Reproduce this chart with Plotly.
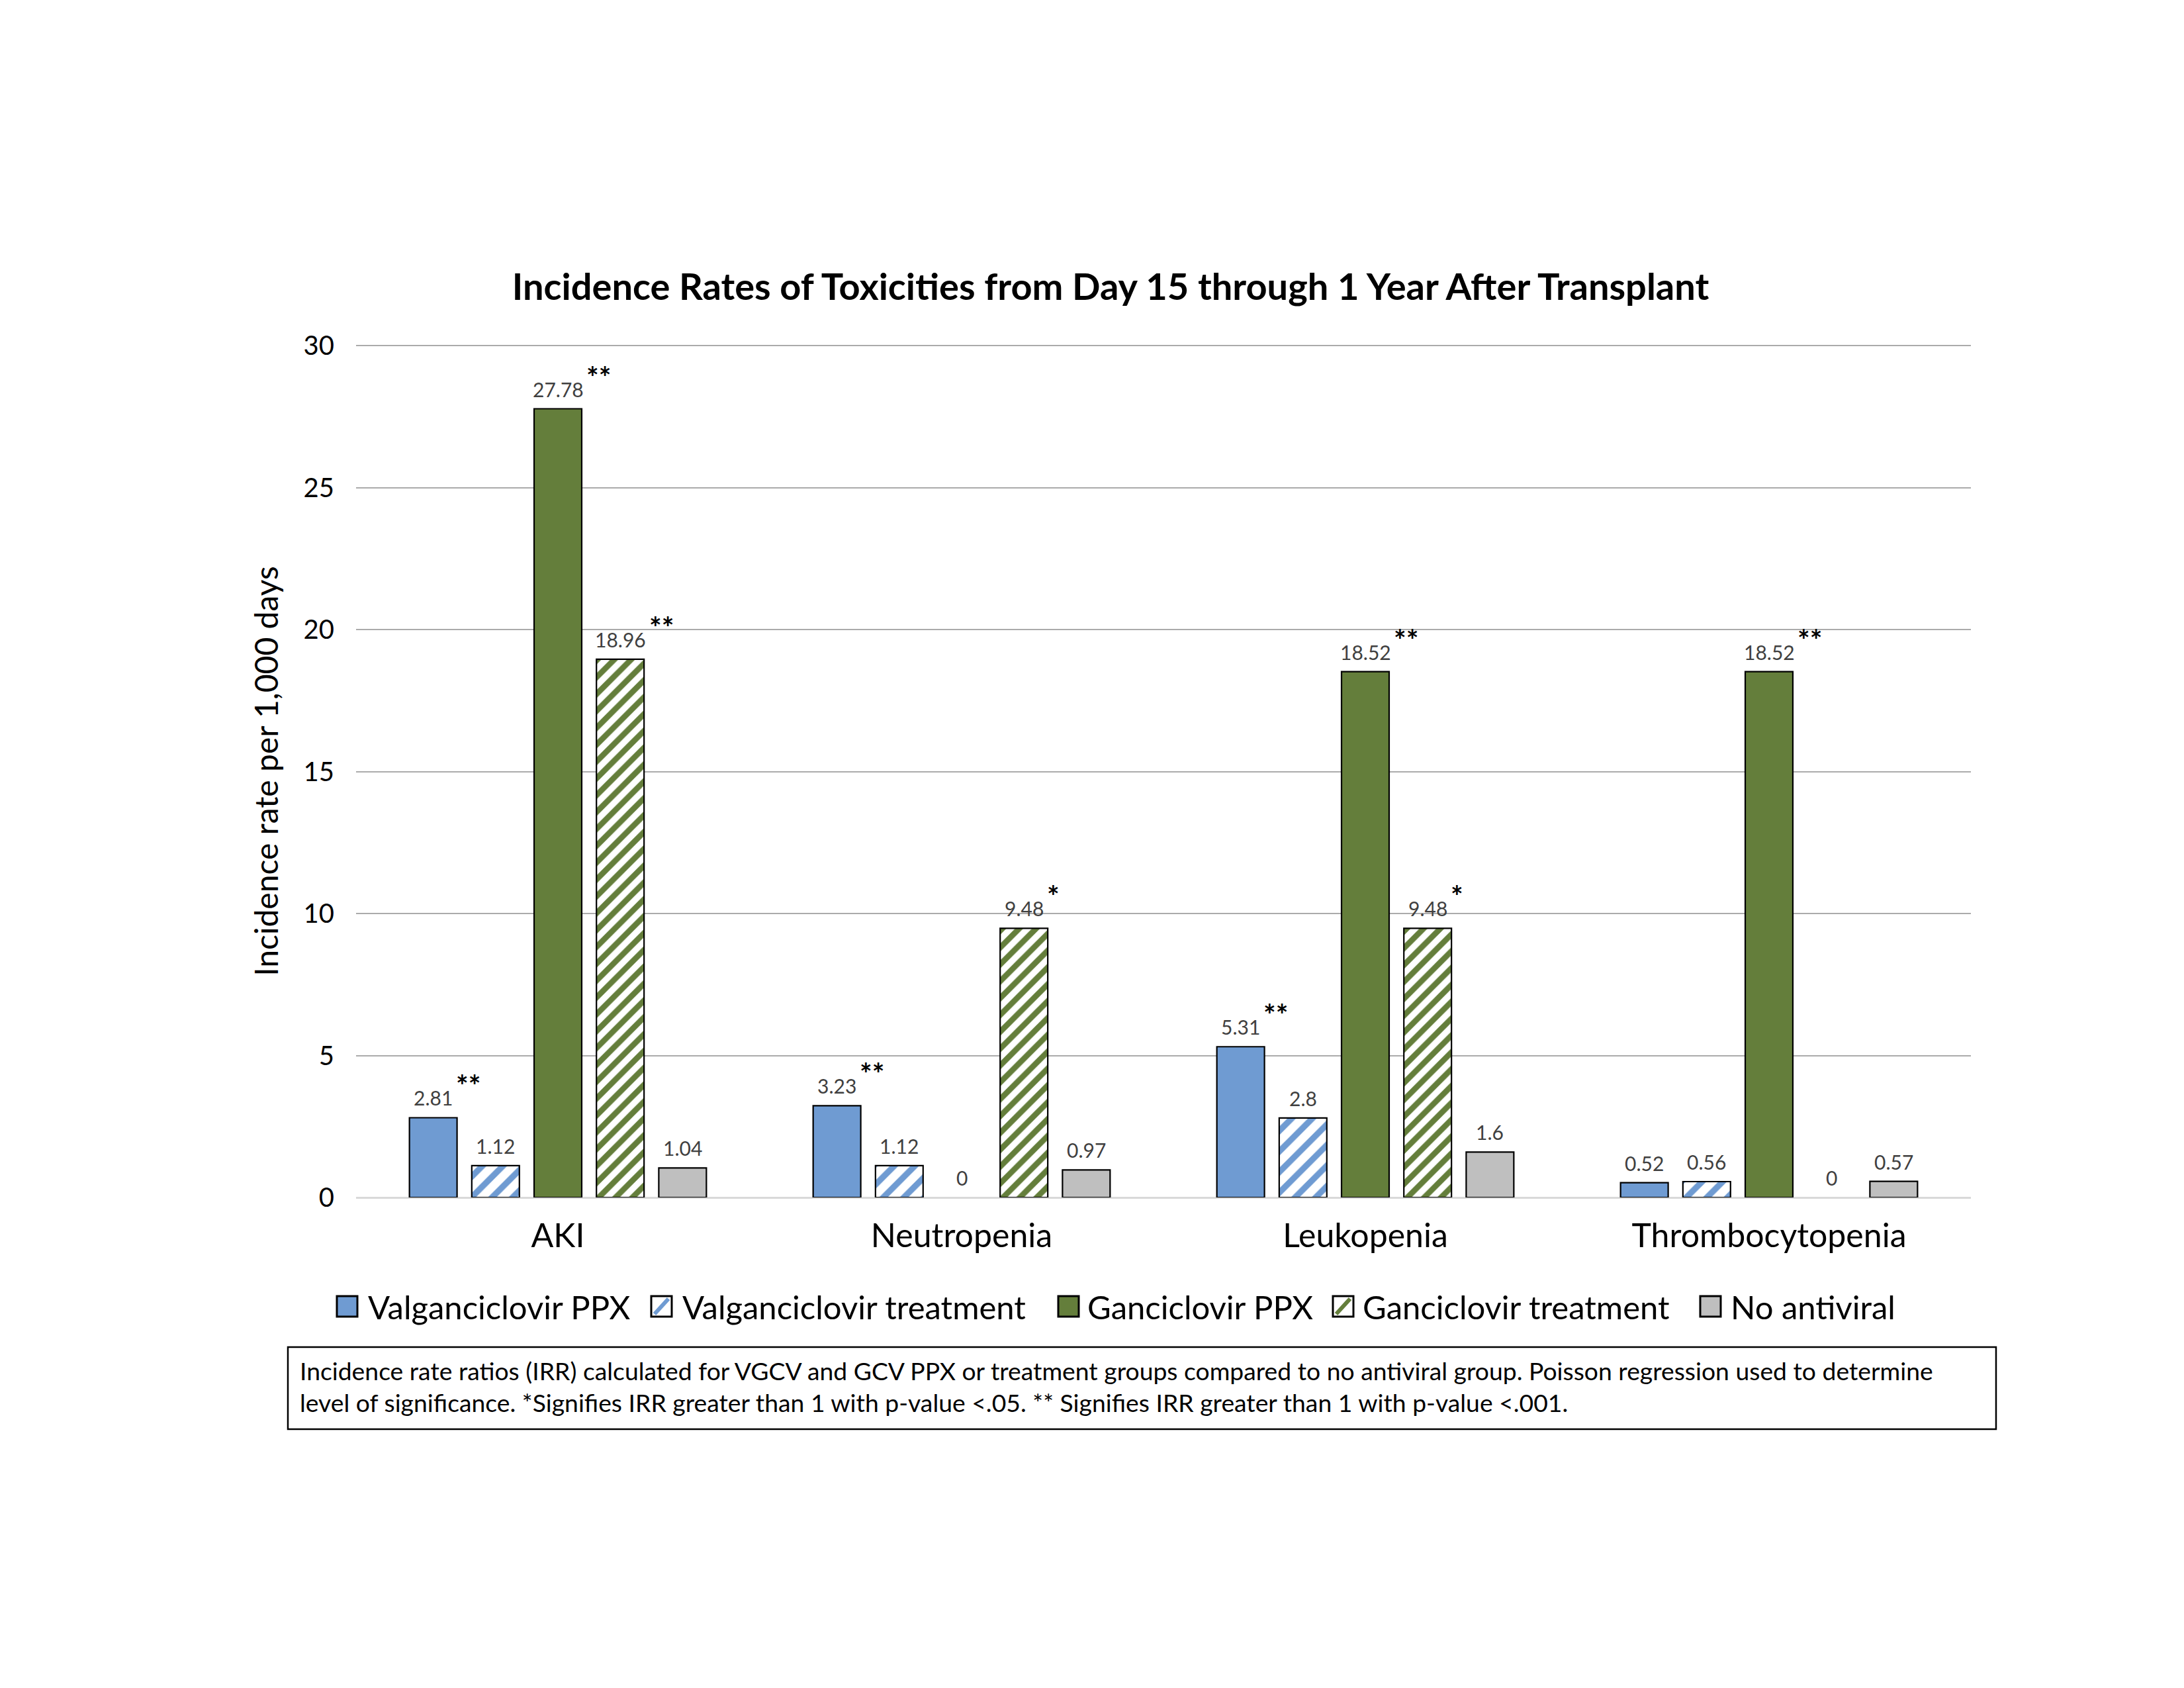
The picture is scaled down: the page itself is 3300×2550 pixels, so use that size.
import plotly.graph_objects as go

# ---------------- data ----------------
categories = ["AKI", "Neutropenia", "Leukopenia", "Thrombocytopenia"]
series_names = ["Valganciclovir PPX", "Valganciclovir treatment", "Ganciclovir PPX",
                "Ganciclovir treatment", "No antiviral"]
valg_ppx = [2.81, 3.23, 5.31, 0.52]
valg_tx = [1.12, 1.12, 2.8, 0.56]
gcv_ppx = [27.78, 0, 18.52, 18.52]
gcv_tx = [18.96, 9.48, 9.48, 0]
no_antiviral = [1.04, 0.97, 1.6, 0.57]
sig_valg_ppx = ["**", "**", "**", ""]
sig_valg_tx = ["", "", "", ""]
sig_gcv_ppx = ["**", "", "**", "**"]
sig_gcv_tx = ["**", "*", "*", ""]
sig_no_antiviral = ["", "", "", ""]
y_ticks = [0, 5, 10, 15, 20, 25, 30]

title_text = "Incidence Rates of Toxicities from Day 15 through 1 Year After Transplant"
y_title = "Incidence rate per 1,000 days"
note_text = ("Incidence rate ratios (IRR) calculated for VGCV and GCV PPX or treatment groups compared to no antiviral group. Poisson regression used to determine"
             "<br>level of significance. *Signifies IRR greater than 1 with p-value <.05. ** Signifies IRR greater than 1 with p-value <.001.")

# ---------------- styles ----------------
FONT = "Lato"
BLUE = "#6F9BD2"
GREEN = "#647E3B"
GRAY = "#BFBFBF"
values = [valg_ppx, valg_tx, gcv_ppx, gcv_tx, no_antiviral]
sigs = [sig_valg_ppx, sig_valg_tx, sig_gcv_ppx, sig_gcv_tx, sig_no_antiviral]
styles = [
    dict(color=BLUE, pattern=None, stripe=None),
    dict(color="white", pattern=dict(shape="/", fgcolor=BLUE, bgcolor="white", size=22,
                                     solidity=0.42, fgopacity=1), stripe=BLUE),
    dict(color=GREEN, pattern=None, stripe=None),
    dict(color="white", pattern=dict(shape="/", fgcolor=GREEN, bgcolor="white", size=18,
                                     solidity=0.48, fgopacity=1), stripe=GREEN),
    dict(color=GRAY, pattern=None, stripe=None),
]

W, H = 3300, 2550
L, R, T, B = 530, 330, 513, 749
plot_w = W - L - R
plot_h = H - T - B
BARGAP = 0.228
BARGROUPGAP = 0.236
cat_w = plot_w / len(categories)
slot = cat_w * (1 - BARGAP) / len(series_names)

LABEL_FS = 30
STAR_FS = 44


def px_x(p):
    return (p - L) / plot_w


def px_y(p):
    return (H - B - p) / plot_h


def label_width(s, fs):
    return sum(0.58 * fs if ch.isdigit() else 0.24 * fs for ch in s)


fig = go.Figure()
for i, (name, vals, st) in enumerate(zip(series_names, values, styles)):
    marker = dict(color=st["color"],
                  line=dict(color="black", width=[0 if v == 0 else 2.2 for v in vals]))
    if st["pattern"]:
        marker["pattern"] = st["pattern"]
    fig.add_trace(go.Bar(x=categories, y=vals, name=name, marker=marker,
                         showlegend=False, hoverinfo="x+y"))

annotations = []
for i, (vals, sg) in enumerate(zip(values, sigs)):
    xs = (i - (len(series_names) - 1) / 2) * slot
    for c, v, s in zip(categories, vals, sg):
        lab = f"{v:g}"
        annotations.append(dict(x=c, y=v, xref="x", yref="y", text=lab,
                                showarrow=False, xshift=xs, yshift=30, yanchor="middle",
                                font=dict(family=FONT, size=LABEL_FS, color="#404040")))
        if s:
            annotations.append(dict(x=c, y=v, xref="x", yref="y", text=f"<b>{s}</b>",
                                    showarrow=False,
                                    xshift=xs + label_width(lab, LABEL_FS) / 2 + 3,
                                    xanchor="left", yshift=49, yanchor="middle",
                                    font=dict(family=FONT, size=STAR_FS, color="black")))

# footnote
annotations.append(dict(x=px_x(443), y=px_y(2086), xref="paper", yref="paper",
                        text=note_text, showarrow=False, xanchor="left", yanchor="middle",
                        align="left", font=dict(family=FONT, size=37.3, color="black")))

shapes = [dict(type="rect", xref="paper", yref="paper",
               x0=px_x(427), x1=px_x(3008), y0=px_y(2151), y1=px_y(2027),
               line=dict(color="black", width=2.5), fillcolor="rgba(0,0,0,0)")]

# custom legend (large swatches like the original)
legend_swatch_x = [501, 976, 1591, 2006, 2561]
legend_text_x = [546, 1021, 1633, 2049, 2605]
SW = 31
ly0, ly1 = 1950, 1981
for name, st, sx, tx in zip(series_names, styles, legend_swatch_x, legend_text_x):
    shapes.append(dict(type="rect", xref="paper", yref="paper",
                       x0=px_x(sx), x1=px_x(sx + SW), y0=px_y(ly1), y1=px_y(ly0),
                       fillcolor=st["color"], line=dict(color="black", width=3)))
    if st["stripe"]:
        shapes.append(dict(type="line", xref="paper", yref="paper",
                           x0=px_x(sx + 5), x1=px_x(sx + SW - 5),
                           y0=px_y(ly1 - 4), y1=px_y(ly0 + 4),
                           line=dict(color=st["stripe"], width=6)))
    annotations.append(dict(x=px_x(tx), y=px_y((ly0 + ly1) / 2), xref="paper", yref="paper",
                            text=name, showarrow=False, xanchor="left", yanchor="middle",
                            font=dict(family=FONT, size=49, color="black")))

fig.update_layout(
    width=W, height=H,
    margin=dict(l=L, r=R, t=T, b=B, autoexpand=False),
    paper_bgcolor="white", plot_bgcolor="white",
    barmode="group", bargap=BARGAP, bargroupgap=BARGROUPGAP,
    showlegend=False,
    title=dict(text=f"<b>{title_text}</b>", x=1670 / W, xanchor="center",
               y=1 - 425 / H, yanchor="middle",
               font=dict(family=FONT, size=56, color="black")),
    font=dict(family=FONT, color="black"),
    xaxis=dict(type="category", showgrid=False, showline=False, ticks="",
               tickfont=dict(family=FONT, size=50, color="black"),
               ticklabelstandoff=24, zeroline=False),
    yaxis=dict(range=[0, 30.03], tickvals=y_ticks, showgrid=True, gridcolor="#ABABAB",
               gridwidth=2, zeroline=True, zerolinecolor="#D9D9D9", zerolinewidth=3,
               showline=False, ticks="", ticklabelstandoff=32,
               tickfont=dict(family=FONT, size=40, color="black"),
               title=dict(text=y_title, standoff=22,
                          font=dict(family=FONT, size=48, color="black"))),
    annotations=annotations,
    shapes=shapes,
)

fig.write_html("out.html")
